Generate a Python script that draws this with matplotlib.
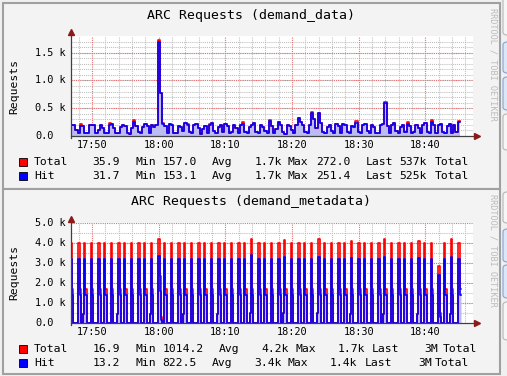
import matplotlib.pyplot as plt
from matplotlib import transforms
from matplotlib.patches import Rectangle, FancyBboxPatch

W, H = 507, 376
MONO = 'DejaVu Sans Mono'

# time axis in minutes after 17:00
x_ticks = [50, 60, 70, 80, 90, 100]
x_labels = ['17:50', '18:00', '18:10', '18:20', '18:30', '18:40']
x_minor = [48, 52, 54, 56, 58, 62, 64, 66, 68, 72, 74, 76, 78, 82, 84, 86, 88,
           92, 94, 96, 98, 102, 104, 106]
t_start = 46.85
t_end = 107.15

# ---- demand_data, one sample every 20 s
data_step = 1 / 3
data_hit = [
    190, 190, 110, 60, 180, 180, 60, 60, 200, 190, 190, 60, 100, 200, 150,
    60, 60, 190, 210, 150, 60, 50, 160, 200, 180, 60, 40, 150, 260, 180,
    80, 60, 170, 210, 180, 60, 190, 170, 200, 1700, 770, 210, 180, 60, 220,
    190, 60, 50, 180, 170, 90, 240, 200, 70, 60, 190, 210, 150, 40, 130,
    180, 60, 200, 230, 90, 60, 170, 190, 70, 220, 180, 60, 80, 200, 150,
    60, 190, 220, 70, 50, 160, 190, 240, 80, 60, 200, 170, 90, 60, 270,
    180, 60, 130, 250, 200, 70, 40, 190, 180, 100, 60, 200, 330, 250, 200,
    70, 60, 200, 410, 300, 150, 410, 230, 70, 50, 170, 200, 90, 60, 210,
    180, 60, 220, 190, 70, 50, 180, 170, 240, 80, 60, 190, 210, 90, 60,
    200, 170, 60, 50, 190, 210, 600, 180, 60, 200, 230, 90, 60, 170, 190,
    70, 220, 180, 60, 80, 200, 150, 60, 190, 230, 70, 50, 260, 190, 60,
    190, 210, 70, 50, 180, 220, 60, 190, 80, 250,
]
# samples where Total sits above Hit
data_red_idx = [4, 17, 28, 39, 41, 52, 62, 77, 89, 108, 128, 141, 151, 162, 174]
data_red_total = [215, 235, 285, 1720, 235, 225, 225, 245, 290, 430, 265, 620, 245, 285, 272]
data_yticks = [0, 500, 1000, 1500]
data_ylabels = ['0.0', '0.5 k', '1.0 k', '1.5 k']
data_legend_total = [('Total', 34, 'left'), ('35.9', 120, 'right'), ('Min', 135, 'left'),
                     ('157.0', 197, 'right'), ('Avg', 212, 'left'), ('1.7k', 282, 'right'),
                     ('Max', 288, 'left'), ('272.0', 351, 'right'), ('Last', 366, 'left'),
                     ('537k', 427, 'right'), ('Total', 435, 'left')]
data_legend_hit = [('Hit', 34, 'left'), ('31.7', 120, 'right'), ('Min', 135, 'left'),
                   ('153.1', 197, 'right'), ('Avg', 212, 'left'), ('1.7k', 282, 'right'),
                   ('Max', 288, 'left'), ('251.4', 351, 'right'), ('Last', 366, 'left'),
                   ('525k', 427, 'right'), ('Total', 435, 'left')]

# ---- demand_metadata, one burst per minute, samples of 10 s
meta_step = 1 / 6
meta_peak_total = [
    3980, 3980, 3980, 3980, 3980, 3980, 3980, 3980, 3980, 3980,
    3980, 3980, 3980, 4200, 3980, 3980, 3980, 3980, 3980, 3980,
    3980, 3980, 3980, 3980, 3980, 3980, 3980, 4200, 3980, 3980,
    3980, 3980, 4170, 3980, 3980, 3980, 3980, 4200, 3980, 3980,
    3980, 3980, 4100, 3980, 3980, 3980, 3980, 4200, 3980, 3980,
    3980, 3980, 4100, 3980, 3980, 2830, 3980, 4200, 3980,
]
meta_peak_hit = [
    3200, 3200, 3200, 3200, 3200, 3200, 3200, 3200, 3200, 3200,
    3200, 3200, 3200, 3330, 3200, 3200, 3200, 3200, 3200, 3200,
    3200, 3200, 3200, 3200, 3200, 3200, 3200, 3420, 3200, 3200,
    3200, 3200, 3300, 3200, 3200, 3200, 3200, 3300, 3200, 3200,
    3200, 3200, 3250, 3200, 3200, 3200, 3200, 3300, 3200, 3200,
    3200, 3200, 3250, 3200, 3200, 2400, 3200, 3300, 3200,
]
meta_peak_len = [
    1, 2, 1, 1, 2, 1, 1, 2, 1, 1, 2, 1, 1, 2, 1, 1, 2, 1, 1, 2,
    1, 1, 2, 1, 1, 2, 1, 1, 2, 1, 1, 2, 1, 1, 2, 1, 1, 2, 1, 1,
    2, 1, 1, 2, 1, 1, 2, 1, 1, 2, 1, 1, 2, 1, 1, 2, 1, 1, 2,
]
meta_mid_total = [
    1700, 1700, 1700, 1700, 1700, 1700, 1700, 1700, 1700, 1700,
    1700, 1700, 1700, 2330, 1700, 1700, 1700, 1700, 1700, 1700,
    1700, 1700, 1700, 1700, 1700, 1700, 1700, 1700, 1700, 1700,
    1700, 1700, 1700, 1700, 1700, 1700, 1700, 1700, 1700, 1700,
    1700, 1700, 1700, 1700, 1700, 1700, 1700, 1700, 1700, 1700,
    1700, 1700, 1700, 1700, 1700, 500, 1700, 1700, 1700,
]
meta_mid_hit = [
    1420, 1420, 1420, 1420, 1420, 1420, 1420, 1420, 1420, 1420,
    1420, 1420, 1420, 1580, 1420, 1420, 1420, 1420, 1420, 1420,
    1420, 1420, 1420, 1420, 1420, 1420, 1420, 1420, 1420, 1420,
    1420, 1420, 1420, 1420, 1420, 1420, 1420, 1420, 1420, 1420,
    1420, 1420, 1420, 1420, 1420, 1420, 1420, 1420, 1420, 1420,
    1420, 1420, 1420, 1420, 1420, 300, 1420, 1420, 1420,
]
meta_pre_k = [2, 7, 12, 17, 22, 27, 32, 37, 42, 47, 52, 57]
meta_pre_hit = [450, 450, 450, 450, 450, 500, 500, 500, 450, 450, 450, 450]
meta_tail_k = [13]
meta_tail_total = [300]
meta_tail_hit = [150]
meta_yticks = [0, 1000, 2000, 3000, 4000, 5000]
meta_ylabels = ['0.0', '1.0 k', '2.0 k', '3.0 k', '4.0 k', '5.0 k']
meta_legend_total = [('Total', 34, 'left'), ('16.9', 120, 'right'), ('Min', 135, 'left'),
                     ('1014.2', 204, 'right'), ('Avg', 219, 'left'), ('4.2k', 289, 'right'),
                     ('Max', 296, 'left'), ('1.7k', 365, 'right'), ('Last', 372, 'left'),
                     ('3M', 438, 'right'), ('Total', 443, 'left')]
meta_legend_hit = [('Hit', 34, 'left'), ('13.2', 120, 'right'), ('Min', 135, 'left'),
                   ('822.5', 197, 'right'), ('Avg', 212, 'left'), ('3.4k', 282, 'right'),
                   ('Max', 288, 'left'), ('1.4k', 357, 'right'), ('Last', 365, 'left'),
                   ('3M', 432, 'right'), ('Total', 435, 'left')]

RED = '#ff0000'
BLUE = '#0000ff'
AREA = '#bcbcf2'
DOT = (0, (1, 1))


def fx(x):
    return x / W


def fy(y):
    return 1 - y / H


def build_data():
    t = [t_start + i * data_step for i in range(len(data_hit))]
    tot = list(data_hit)
    for i, v in zip(data_red_idx, data_red_total):
        tot[i] = v
    t.append(t[-1] + data_step)
    return t, tot + [tot[-1]], data_hit + [data_hit[-1]]


def build_meta():
    t, tot, hit = [], [], []
    n_min = len(meta_peak_total)
    for k in range(n_min):
        s_tot = [0] * 6
        s_hit = [0] * 6
        if k in meta_pre_k:
            j = meta_pre_k.index(k)
            s_tot[0] = s_hit[0] = meta_pre_hit[j]
        n = meta_peak_len[k]
        for j in range(1, 1 + n):
            s_tot[j] = meta_peak_total[k]
            s_hit[j] = meta_peak_hit[k]
        s_tot[1 + n] = meta_mid_total[k]
        s_hit[1 + n] = meta_mid_hit[k]
        if k in meta_tail_k:
            j = meta_tail_k.index(k)
            s_tot[2 + n] = meta_tail_total[j]
            s_hit[2 + n] = meta_tail_hit[j]
        keep = 6 if k < n_min - 1 else 2 + n
        for j in range(keep):
            t.append(t_start - meta_step + k + j * meta_step)
            tot.append(s_tot[j])
            hit.append(s_hit[j])
    t.append(t[-1] + meta_step)
    return t, tot + [tot[-1]], hit + [hit[-1]]


def panel(fig, y0, y1, axis_y, ymax, minor_y, yticks, ylabels, title,
          leg_total, leg_hit, series):
    # frame of the rrd image
    fig.patches.append(Rectangle((fx(3), fy(y1)), fx(497), (y1 - y0) / H,
                                 transform=fig.transFigure, facecolor='#f3f3f3',
                                 edgecolor='#a0a0a0', lw=1.5, zorder=-5))
    ax = fig.add_axes([fx(71), fy(axis_y), 402 / W, 100 / H], zorder=2)
    ax.set_xlim(t_start, t_end)
    ax.set_ylim(0, ymax)
    ax.set_facecolor('white')
    for s in ax.spines.values():
        s.set_visible(False)
    ax.set_xticks([])
    ax.set_yticks([])

    for v in minor_y:
        ax.axhline(v, color='#bdbdbd', lw=0.75, ls=DOT, zorder=1)
    for v in x_minor:
        ax.axvline(v, color='#bdbdbd', lw=0.75, ls=DOT, zorder=1)
    for v in yticks[1:]:
        ax.axhline(v, color='#e57373', lw=0.8, ls=DOT, zorder=1.2)
    for v in x_ticks:
        ax.axvline(v, color='#e57373', lw=0.8, ls=DOT, zorder=1.2)

    t, tot, hit = series
    ax.fill_between(t, hit, step='post', color=AREA, lw=0, zorder=2)
    ax.step(t, tot, where='post', color=RED, lw=1.2, zorder=3)
    ax.step(t, hit, where='post', color=BLUE, lw=1.2, zorder=4)

    # axes with arrows
    over = 4 * ymax / 100
    ax.plot([t_start, t_end + 0.6], [0, 0], color='#404040', lw=0.9,
            clip_on=False, zorder=5)
    ax.plot([t_start, t_start], [-over * 0.5, ymax + over], color='#404040',
            lw=0.9, clip_on=False, zorder=5)
    ax.plot(t_end + 0.6, 0, marker='>', ms=4, color='#8b1a1a', clip_on=False, zorder=6)
    ax.plot(t_start, ymax + over, marker='^', ms=4, color='#8b1a1a', clip_on=False, zorder=6)

    ytr = transforms.blended_transform_factory(fig.transFigure, ax.transData)
    for v, lab in zip(yticks, ylabels):
        fig.text(fx(35), v, lab, transform=ytr, ha='left', va='center',
                 family=MONO, fontsize=7.4)
    xtr = transforms.blended_transform_factory(ax.transData, fig.transFigure)
    for v, lab in zip(x_ticks, x_labels):
        fig.text(v, fy(axis_y + 9), lab, transform=xtr, ha='center', va='center',
                 family=MONO, fontsize=7.4)

    fig.text(fx(251), fy(y0 + 13), title, ha='center', va='center', family=MONO,
             fontsize=9.5)
    fig.text(fx(14), fy(axis_y - 50), 'Requests', rotation=90, ha='center',
             va='center', family=MONO, fontsize=8.2)
    fig.text(fx(493), fy(y0 + 5), 'RRDTOOL / TOBI OETIKER', rotation=270,
             ha='center', va='top', family=MONO, fontsize=6.1, color='#bbbbbb')

    for row, (items, col) in enumerate([(leg_total, RED), (leg_hit, BLUE)]):
        ry = axis_y + 26 + row * 14
        fig.patches.append(Rectangle((fx(19), fy(ry + 4)), 8 / W, 8 / H,
                                     transform=fig.transFigure, facecolor=col,
                                     edgecolor='black', lw=0.6, zorder=3))
        for txt, xp, ha in items:
            fig.text(fx(xp), fy(ry), txt, ha=ha, va='center', family=MONO,
                     fontsize=8.2)
    return ax


fig = plt.figure(figsize=(W / 100, H / 100), dpi=100, facecolor='#f0f0f0')

panel(fig, 3, 189, 136, 1800, range(100, 1800, 100), data_yticks, data_ylabels,
      'ARC Requests (demand_data)', data_legend_total, data_legend_hit, build_data())
panel(fig, 189, 374, 323, 5000, range(500, 5000, 500), meta_yticks, meta_ylabels,
      'ARC Requests (demand_metadata)', meta_legend_total, meta_legend_hit, build_meta())

# browser buttons cut off at the right edge
for a, b, face, edge in [(-6, 35, '#f6f6f6', '#b5b5b5'), (42, 73, '#dbe7f5', '#7fa4d4'),
                         (77, 110, '#dbe7f5', '#7fa4d4'), (114, 150, '#f6f6f6', '#b5b5b5'),
                         (192, 223, '#f6f6f6', '#b5b5b5'), (229, 262, '#dbe7f5', '#7fa4d4'),
                         (265, 298, '#dbe7f5', '#7fa4d4'), (302, 340, '#f6f6f6', '#b5b5b5')]:
    fig.patches.append(FancyBboxPatch((fx(503), fy(b)), 20 / W, (b - a) / H,
                                      boxstyle='round,pad=0,rounding_size=0.008',
                                      transform=fig.transFigure, facecolor=face,
                                      edgecolor=edge, lw=0.8))

fig.savefig('out.png', dpi=100, facecolor=fig.get_facecolor())
